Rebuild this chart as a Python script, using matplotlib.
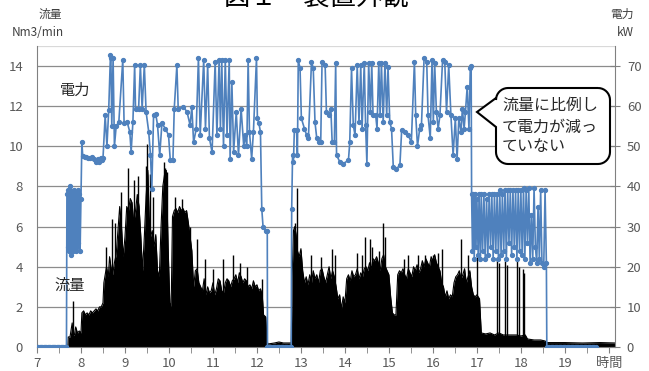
import numpy as np
import matplotlib
matplotlib.use("Agg")
import matplotlib.pyplot as plt
from matplotlib.path import Path
from matplotlib.patches import PathPatch

plt.rcParams['font.family'] = ['Noto Sans CJK JP', 'DejaVu Sans']

# 電力 (kW) : 時刻(h), 値
power_t = [7.00, 7.03, 7.06, 7.09, 7.12, 7.15, 7.18, 7.21, 7.24, 7.27, 7.30, 7.33, 7.36, 7.39, 7.42,
           7.45, 7.48, 7.51, 7.54, 7.57, 7.60, 7.63, 7.66,
           7.67, 7.68, 7.70, 7.71, 7.72, 7.73, 7.74, 7.75, 7.76, 7.77, 7.78, 7.79, 7.80, 7.81, 7.82,
           7.83, 7.84, 7.85, 7.86, 7.87, 7.88, 7.89, 7.90, 7.91, 7.92, 7.93, 7.94, 7.96, 7.98, 8.00,
           8.02, 8.04, 8.08, 8.12, 8.16, 8.20, 8.25, 8.30, 8.35, 8.38, 8.42, 8.45, 8.48, 8.50,
           8.55, 8.59, 8.63, 8.67, 8.68, 8.70, 8.73, 8.76, 8.80, 8.86, 8.95, 8.98, 9.05, 9.11, 9.14,
           9.18, 9.22, 9.24, 9.31, 9.35, 9.39, 9.44, 9.48, 9.54, 9.58, 9.61, 9.65, 9.70, 9.74, 9.79,
           9.84, 9.92, 9.99, 10.03, 10.09, 10.12, 10.18, 10.21, 10.33, 10.41, 10.48, 10.52, 10.56,
           10.62, 10.67, 10.71, 10.79, 10.83, 10.88, 10.92, 10.98, 11.05, 11.09, 11.14, 11.17, 11.20,
           11.24, 11.28, 11.32, 11.37, 11.39, 11.43, 11.47, 11.53, 11.58, 11.64, 11.70, 11.73, 11.77,
           11.80, 11.83, 11.88, 11.92, 11.99, 12.01, 12.045, 12.08, 12.11, 12.14, 12.20, 12.235,
           12.24, 12.27, 12.30, 12.33, 12.36, 12.39, 12.42, 12.45, 12.48, 12.51, 12.54, 12.57, 12.60,
           12.63, 12.66, 12.69, 12.72, 12.75, 12.78,
           12.79, 12.81, 12.83, 12.85, 12.90, 12.92, 12.94, 12.98, 13.01, 13.08, 13.13, 13.17, 13.24,
           13.28, 13.32, 13.36, 13.41, 13.45, 13.48, 13.55, 13.58, 13.64, 13.68, 13.71, 13.76, 13.79,
           13.81, 13.89, 13.96, 14.08, 14.11, 14.15, 14.19, 14.23, 14.28, 14.32, 14.36, 14.39, 14.44,
           14.47, 14.50, 14.54, 14.58, 14.61, 14.64, 14.70, 14.73, 14.77, 14.80, 14.83, 14.87, 14.91,
           14.95, 14.98, 15.02, 15.06, 15.10, 15.17, 15.25, 15.29, 15.36, 15.44, 15.51, 15.58, 15.61,
           15.65, 15.70, 15.74, 15.80, 15.86, 15.89, 15.94, 15.98, 16.01, 16.04, 16.08, 16.12, 16.16,
           16.22, 16.27, 16.31, 16.36, 16.41, 16.46, 16.51, 16.55, 16.59, 16.64, 16.67, 16.71, 16.74,
           16.78, 16.82, 16.85, 16.87,
           16.88, 16.90, 16.92, 16.94, 16.96, 16.98, 17.00, 17.03, 17.05, 17.08, 17.10, 17.13, 17.16,
           17.19, 17.22, 17.25, 17.28, 17.31, 17.34, 17.37, 17.40, 17.43, 17.46, 17.49, 17.52, 17.55,
           17.58, 17.61, 17.64, 17.67, 17.70, 17.73, 17.76, 17.79, 17.82, 17.85, 17.88, 17.91, 17.94,
           17.97, 18.00, 18.03, 18.06, 18.09, 18.12, 18.15, 18.18, 18.21, 18.24, 18.27, 18.30, 18.33,
           18.36, 18.39, 18.42, 18.45, 18.48, 18.52, 18.55, 18.58,
           18.59, 18.62, 18.65, 18.68, 18.71, 18.74, 18.77, 18.80, 18.83, 18.86, 18.89, 18.92, 18.95,
           18.98, 19.01, 19.04, 19.07, 19.10, 19.13, 19.16, 19.19, 19.22, 19.25, 19.28, 19.31, 19.34,
           19.37, 19.40, 19.43, 19.46, 19.49, 19.52, 19.55, 19.58, 19.61, 19.64, 19.67, 19.70]
power_kw = [0, 0, 0, 0, 0, 0, 0, 0, 0, 0, 0, 0, 0, 0, 0,
            0, 0, 0, 0, 0, 0, 0, 0,
            0, 38, 39, 25, 24, 38, 40, 26, 39, 25, 23, 38, 37, 24, 38,
            26, 39, 25, 38, 37, 24, 38, 26, 38, 25, 39, 26, 38, 24, 37,
            51, 47.5, 47.3, 47.4, 47.2, 47.0, 47.3, 46.8, 46.2, 46.8, 46.0, 47.2, 46.5, 47.0,
            57.7, 50, 59, 72.7, 72, 55, 72, 50, 55, 56, 71.5, 55.7, 56, 53.6, 48.6,
            56, 70.2, 59.4, 59.4, 70.2, 59.4, 70.2, 58.6, 53.6, 47.8, 39.4, 57.7, 58, 55.3, 47.8,
            55.7, 54.4, 52.8, 46.5, 46.5, 59.4, 70.2, 59.4, 59.8, 58.6, 55.3, 59.8, 51,
            54.4, 72, 52.8, 71.5, 54.4, 70.2, 52, 48.6, 71, 52.8, 71.5, 54.4, 71.5,
            50, 71.5, 52.8, 71.5, 46.9, 66, 48.6, 58.6, 47.8, 59.4, 50, 52.8, 50,
            71.5, 53.6, 46.9, 53.6, 72, 57, 55.7, 53.6, 34.4, 29.8, 29, 29,
            0, 0, 0, 0, 0, 0, 0, 0, 0, 0, 0, 0, 0,
            0, 0, 0, 0, 0, 0,
            34.4, 47.8, 46, 54, 54, 47.8, 71.5, 69.4, 57, 54.4, 52.8, 52, 71,
            69.4, 56, 52, 51, 51, 71, 70.2, 58.6, 57.7, 59.4, 51, 51, 70.7,
            47.8, 46, 45.7, 46.5, 51, 69.4, 55.3, 52.8, 70.2, 56, 70.2, 54.4, 70.7,
            55.3, 45.7, 70.7, 58.6, 70.7, 57.7, 57.7, 54.4, 70.7, 57.7, 70.7, 56, 70.7,
            57.7, 69.8, 56, 54.4, 44.8, 44.4, 45.3, 54, 53.6, 52.8, 51, 71, 57.7,
            50, 54.4, 55.3, 72, 71, 57.7, 52, 71.5, 56, 70.7, 58.6, 54.4, 57.7,
            71.5, 71, 58.6, 70.2, 57.7, 47.8, 57, 46.9, 57, 53.6, 59.4, 54.4, 58.6,
            64.8, 54.4, 69.4, 70,
            38, 24, 38, 22, 38, 25, 37, 23, 38, 22, 38, 24, 38,
            22, 37, 23, 38, 25, 38, 22, 38, 24, 38, 22, 39, 23,
            38, 24, 39, 22, 39, 26, 39, 23, 39, 25, 39, 22, 39,
            24, 39, 23, 39.5, 22, 39, 26, 39.5, 21, 33, 22, 39.5, 25,
            21, 35, 22, 39, 21, 20, 39, 21,
            0, 0, 0, 0, 0, 0, 0, 0, 0, 0, 0, 0, 0,
            0, 0, 0, 0, 0, 0, 0, 0, 0, 0, 0, 0, 0,
            0, 0, 0, 0, 0, 0, 0, 0, 0, 0, 0, 0]

# 流量 (Nm3/min) : ベース
flow_t = [7.00, 7.70, 7.71, 7.75, 7.78, 7.80, 7.82, 7.85, 7.88, 7.92, 7.96, 8.00, 8.02, 8.06,
          8.10, 8.14, 8.18, 8.22, 8.26, 8.30, 8.34, 8.38, 8.42, 8.46, 8.50, 8.52, 8.55, 8.58, 8.62,
          8.65, 8.68, 8.72, 8.76, 8.80, 8.84, 8.88, 8.92, 8.96, 9.00, 9.04, 9.08, 9.12, 9.16, 9.20,
          9.24, 9.28, 9.32, 9.36, 9.40, 9.44, 9.48, 9.52, 9.55, 9.58, 9.62, 9.66, 9.70, 9.74, 9.78,
          9.82, 9.86, 9.90, 9.94, 9.98, 10.02, 10.05, 10.08, 10.12, 10.16, 10.20, 10.24, 10.28,
          10.32, 10.36, 10.40, 10.44, 10.48, 10.52, 10.56, 10.60, 10.64, 10.68, 10.72, 10.76, 10.80,
          10.84, 10.88, 10.92, 10.96, 11.00, 11.04, 11.08, 11.12, 11.16, 11.20, 11.24, 11.28, 11.32,
          11.36, 11.40, 11.44, 11.48, 11.52, 11.56, 11.60, 11.64, 11.68, 11.72, 11.76, 11.80, 11.84,
          11.88, 11.92, 11.96, 12.00, 12.04, 12.08, 12.12, 12.15, 12.20, 12.23, 12.25, 12.40, 12.50,
          12.60, 12.78, 12.80, 12.83, 12.86, 12.89, 12.92, 12.96, 13.00, 13.04, 13.08, 13.12, 13.16,
          13.20, 13.24, 13.28, 13.32, 13.36, 13.40, 13.44, 13.48, 13.52, 13.56, 13.60, 13.64, 13.68,
          13.72, 13.76, 13.80, 13.84, 13.88, 13.92, 13.96, 14.00, 14.04, 14.08, 14.12, 14.16, 14.20,
          14.24, 14.28, 14.32, 14.36, 14.40, 14.44, 14.48, 14.52, 14.56, 14.60, 14.64, 14.68, 14.72,
          14.76, 14.80, 14.84, 14.88, 14.92, 14.96, 15.00, 15.04, 15.08, 15.12, 15.16, 15.20, 15.24,
          15.28, 15.32, 15.36, 15.40, 15.44, 15.48, 15.52, 15.56, 15.60, 15.64, 15.68, 15.72, 15.76,
          15.80, 15.84, 15.88, 15.92, 15.96, 16.00, 16.04, 16.08, 16.12, 16.16, 16.20, 16.24, 16.28,
          16.32, 16.36, 16.40, 16.44, 16.48, 16.52, 16.56, 16.60, 16.64, 16.68, 16.72, 16.76, 16.80,
          16.84, 16.88, 16.92, 16.96, 17.00, 17.06, 17.10, 17.20, 17.30, 17.40, 17.50, 17.60, 17.70,
          17.80, 17.90, 18.00, 18.10, 18.15, 18.30, 18.45, 18.55, 18.60, 19.00, 19.40, 19.80, 20.14]
flow_v = [0, 0, 0.5, 0.5, 0.9, 1.2, 0.6, 0.6, 1.0, 0.7, 0.8, 0.7, 1.7, 1.8,
          1.6, 1.7, 1.6, 1.8, 1.7, 1.8, 1.9, 1.8, 2.0, 2.0, 2.2, 3.2, 3.6, 4.0, 3.5,
          4.5, 4.0, 3.6, 4.2, 4.6, 5.8, 7.0, 6.0, 4.5, 5.5, 7.0, 6.8, 7.4, 7.2, 6.2,
          6.8, 7.6, 7.0, 5.5, 3.8, 5.5, 7.5, 8.8, 6.5, 5.5, 5.8, 5.0, 5.6, 3.8, 3.5,
          6.0, 8.0, 8.6, 8.8, 5.0, 2.2, 2.0, 6.5, 6.8, 6.9, 6.7, 7.0, 6.8,
          6.9, 6.7, 6.8, 6.2, 5.5, 4.8, 3.0, 3.8, 3.9, 3.2, 3.0, 2.8, 3.4,
          2.6, 3.0, 2.7, 2.8, 3.2, 2.6, 2.9, 3.4, 3.3, 2.8, 2.7, 3.2, 3.4,
          3.3, 3.0, 3.3, 3.4, 3.6, 3.2, 3.7, 3.5, 3.2, 3.4, 3.3, 3.0, 3.1,
          2.9, 3.3, 3.0, 3.1, 2.8, 2.9, 2.6, 1.6, 1.5, 0.3, 0.15, 0.2, 0.25,
          0.2, 0.2, 3.5, 5.8, 6.0, 5.6, 4.8, 4.5, 4.9, 3.8, 3.2, 3.5, 3.1,
          3.6, 3.2, 3.8, 3.4, 3.6, 3.2, 3.8, 3.9, 3.5, 3.2, 3.6, 4.0, 3.4,
          3.8, 3.5, 3.0, 2.4, 2.6, 1.9, 2.5, 2.2, 3.4, 3.6, 3.3, 3.8, 3.5,
          3.6, 3.9, 3.4, 3.7, 3.5, 3.9, 4.0, 3.8, 4.2, 3.9, 4.4, 4.3, 4.5,
          4.2, 3.8, 4.4, 4.6, 4.0, 3.8, 3.6, 2.5, 1.7, 1.6, 1.6, 3.6, 3.8,
          3.7, 3.9, 3.6, 3.4, 3.9, 3.7, 3.5, 4.0, 3.8, 4.1, 3.7, 3.9, 4.3,
          4.0, 4.4, 4.2, 4.0, 4.5, 4.3, 4.6, 4.2, 4.0, 3.8, 3.2, 3.0, 2.5,
          2.8, 2.4, 2.6, 2.5, 3.2, 3.5, 3.6, 3.8, 3.4, 3.6, 3.9, 3.2, 3.5,
          3.8, 3.0, 2.6, 2.5, 2.6, 2.4, 0.7, 0.65, 0.7, 0.6, 0.7, 0.6, 0.6,
          0.6, 0.6, 0.55, 0.6, 0.4, 0.35, 0.35, 0.3, 0.22, 0.22, 0.2, 0.22, 0.2]

# 流量のスパイク
spike_t = [7.82, 8.57, 8.70, 8.78, 8.92, 9.07, 9.20, 9.30, 9.47, 9.50, 9.56, 9.63, 9.88, 9.92,
           9.95, 10.14, 10.30, 10.47, 10.64, 10.82, 11.00, 11.22, 11.45, 11.62, 11.78, 12.11,
           12.86, 12.92, 13.24, 13.45, 13.70, 13.78, 14.27, 14.38, 14.45, 14.56, 14.61, 14.78,
           14.87, 14.92, 15.35, 15.43, 15.67, 15.82, 16.00, 16.11, 16.20, 16.65, 16.80, 17.00,
           17.46, 17.50, 17.65, 17.68, 17.92, 17.95, 18.04, 18.06]
spike_v = [2.3, 5.0, 6.4, 6.2, 7.7, 8.9, 8.3, 8.5, 9.0, 10.1, 8.6, 7.5, 9.2, 8.9,
           8.7, 7.5, 7.4, 6.0, 5.4, 4.4, 3.9, 4.4, 4.6, 4.2, 4.0, 3.4,
           6.2, 7.9, 4.6, 4.5, 4.9, 4.6, 4.7, 4.6, 5.5, 5.4, 5.0, 4.8,
           6.2, 5.5, 4.4, 4.6, 4.6, 4.6, 4.6, 4.7, 4.9, 5.4, 4.6, 4.6,
           4.4, 4.2, 4.3, 4.1, 4.3, 4.0, 3.9, 3.7]

hour_ticks = [7, 8, 9, 10, 11, 12, 13, 14, 15, 16, 17, 18, 19, 20]
hour_labels = ['7', '8', '9', '10', '11', '12', '13', '14', '15', '16', '17', '18', '19', '時間']

W, H = 649, 371
fig = plt.figure(figsize=(W / 100, H / 100), dpi=100)


def fx(px):
    return px / W


def fy(py):
    return 1 - py / H


ax = fig.add_axes([fx(37), fy(347), fx(615) - fx(37), fy(46) - fy(347)])
ax2 = ax.twinx()

tick_col = '#595959'
ax.fill_between(flow_t, flow_v, 0, color='black', lw=0, zorder=2)
ax.plot(flow_t, flow_v, color='black', lw=0.8, zorder=2)
ax.vlines(spike_t, 0, spike_v, color='black', lw=1.0, zorder=2)

ax.set_xlim(7, 20.14)
ax.set_ylim(0, 15)
ax.set_yticks(range(0, 15, 2))
ax.set_xticks(hour_ticks)
ax.set_xticklabels(hour_labels)
ax.set_xticks(np.arange(7.5, 20, 1), minor=True)
for y in range(2, 15, 2):
    ax.axhline(y, color='#8c8c8c', lw=0.9, zorder=1)
ax.axhline(15, color='#d9d9d9', lw=0.9, zorder=1)

ax2.plot(power_t, power_kw, color='#4F81BD', lw=1.2, marker='o', ms=2.8,
         mec='#4F81BD', mfc='#4F81BD', zorder=5)
ax2.set_ylim(0, 75)
ax2.set_yticks(range(0, 71, 10))

for a in (ax, ax2):
    for s in a.spines.values():
        s.set_visible(False)
ax.spines['left'].set_visible(True)
ax.spines['left'].set_color('#808080')
ax.spines['bottom'].set_visible(True)
ax.spines['bottom'].set_color('#808080')
ax2.spines['right'].set_visible(True)
ax2.spines['right'].set_color('#808080')

ax.tick_params(axis='y', length=0, labelsize=9.5, labelcolor=tick_col, pad=10)
ax.tick_params(axis='x', which='both', length=4, color='#808080', labelsize=9.5,
               labelcolor=tick_col, pad=3)
ax2.tick_params(axis='y', direction='inout', length=7, color='#808080', labelsize=9.5,
                labelcolor=tick_col, pad=5)

# 軸タイトル
fig.text(fx(50), fy(14), '流量', fontsize=8.5, color='#404040', ha='center', va='center')
fig.text(fx(38), fy(33), 'Nm3/min', fontsize=8.5, color='#404040', ha='center', va='center')
fig.text(fx(622), fy(14), '電力', fontsize=8.5, color='#404040', ha='center', va='center')
fig.text(fx(625), fy(33), 'kW', fontsize=8.5, color='#404040', ha='center', va='center')

# 図のタイトル (上端で切れている)
fig.text(fx(316), fy(5), '図１　装置外観', fontsize=19, color='black', ha='center', va='baseline')

# 系列ラベル
fig.text(fx(75), fy(90), '電力', fontsize=11, color='#262626', ha='center', va='center')
fig.text(fx(70), fy(285), '流量', fontsize=11, color='#262626', ha='center', va='center')

# 吹き出し
x0, x1, y0, y1, r = 496, 610, 88, 164, 12
verts = []


def arc(cx, cy, a0, a1):
    return [(cx + r * np.cos(a), cy + r * np.sin(a)) for a in np.linspace(a0, a1, 10)]


verts += arc(x1 - r, y0 + r, -np.pi / 2, 0)
verts += arc(x1 - r, y1 - r, 0, np.pi / 2)
verts += arc(x0 + r, y1 - r, np.pi / 2, np.pi)
verts += [(x0, 127), (477, 112), (x0, 98)]
verts += arc(x0 + r, y0 + r, np.pi, 1.5 * np.pi)
verts.append(verts[0])
verts = [(fx(px), fy(py)) for px, py in verts]
bubble = PathPatch(Path(verts), facecolor='white', edgecolor='black', lw=1.5,
                   transform=fig.transFigure, zorder=10)
fig.add_artist(bubble)
for line, py in zip(['流量に比例し', 'て電力が減っ', 'ていない'], [105, 127, 147]):
    fig.text(fx(502), fy(py), line, fontsize=11.5, color='#262626', ha='left', va='center',
             zorder=11)

fig.savefig('out.png', dpi=100)
